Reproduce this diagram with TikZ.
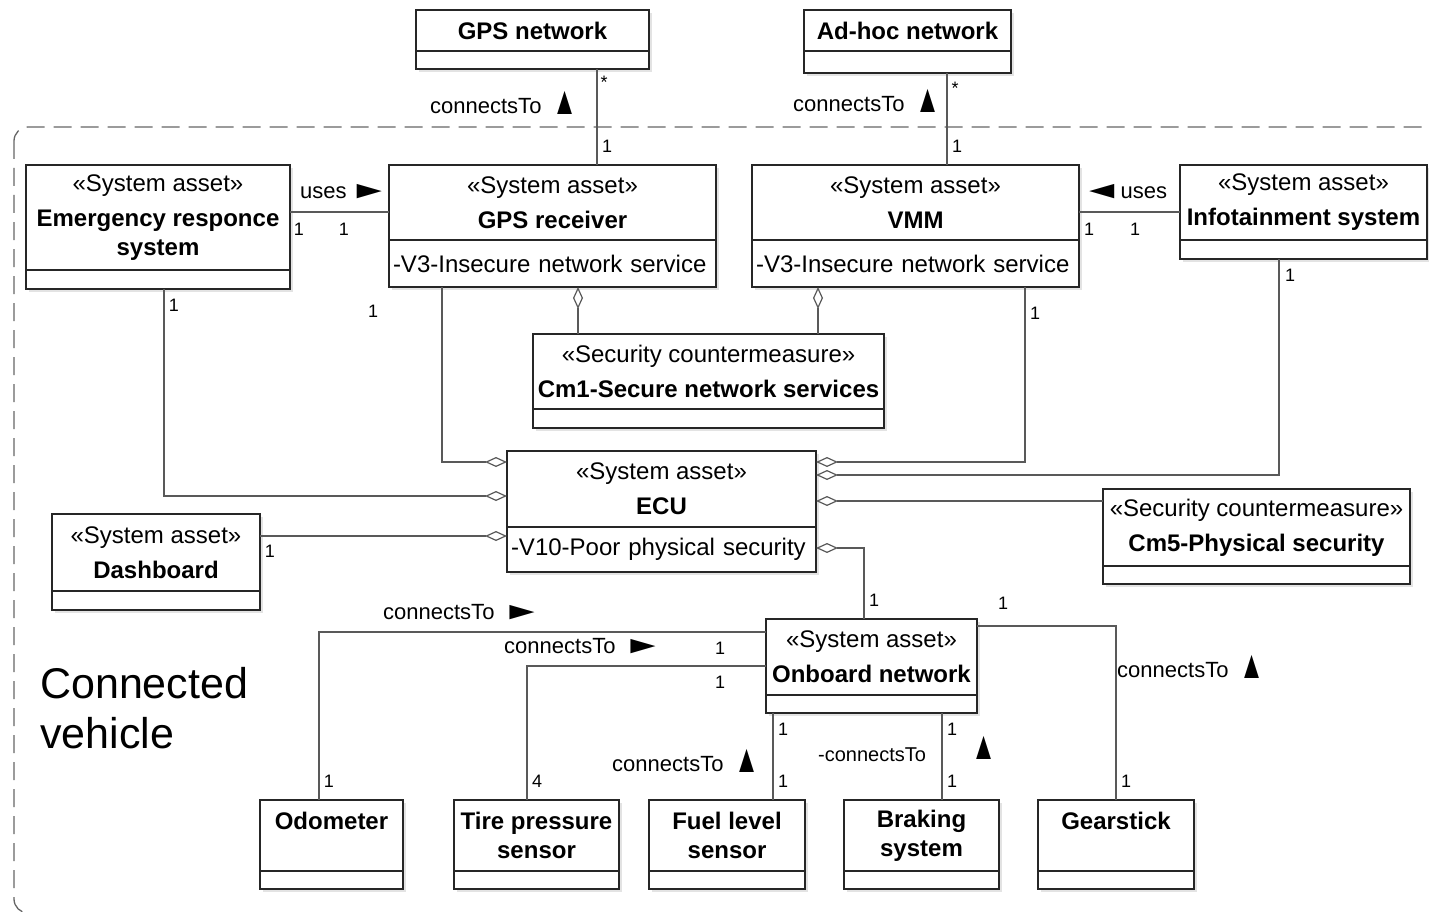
\documentclass[tikz,border=0pt]{standalone}
\usepackage{fontspec}
\usepackage{graphicx}
\setmainfont{Liberation Sans}
\usetikzlibrary{arrows.meta, positioning, calc, shadows}
\newcommand{\dirup}{\raisebox{-1pt}{\scalebox{1.15}[1.8]{▲}}}
\newcommand{\dirright}{\scalebox{1.9}[1.1]{►}}
\newcommand{\dirleft}{\scalebox{1.9}[1.1]{◄}}

\begin{document}
\begin{tikzpicture}[
    x=1pt, y=-1pt,
    cls/.style={draw=black!85, line width=1.6pt, fill=white, inner sep=0pt, outer sep=0pt, anchor=north west, align=center, font=\fontsize{24}{29}\selectfont, drop shadow={shadow xshift=3pt, shadow yshift=-3pt, fill=black!22}},
    cmp/.style={cls, below=0pt of #1},
    att/.style={cls, below=0pt of #1, align=left, inner xsep=4pt},
    assoc/.style={draw=black!65, line width=1.2pt},
    agg/.style={assoc, -{Diamond[open, length=22pt, width=10pt, line width=1.2pt]}},
    lbl/.style={font=\fontsize{22}{24}\selectfont, inner sep=0pt, anchor=west},
    mult/.style={font=\fontsize{18}{20}\selectfont, inner sep=0pt}
]
\useasboundingbox (0,0) rectangle (1429,912);
\clip (0,0) rectangle (1429,912);

\draw[black!60, line width=1.3pt, dash pattern=on 18pt off 9pt, rounded corners=14pt] (14,127) rectangle (1460,913);
\node[font=\fontsize{43}{50}\selectfont, align=left, anchor=west, inner sep=0pt] (pkg) at (40,708) {Connected\\vehicle};

\node[cls, minimum width=233pt, minimum height=41pt] (gpsn) at (416,10) {\textbf{GPS network}};
\node[cmp=gpsn, minimum width=233pt, minimum height=18pt] (gpsn-att) {};
\node[cls, minimum width=207pt, minimum height=41pt] (adhoc) at (804,10) {\textbf{Ad-hoc network}};
\node[cmp=adhoc, minimum width=207pt, minimum height=22pt] (adhoc-att) {};

\node[cls, minimum width=264pt, minimum height=105pt] (ers) at (26,165) {«System asset»\\[6pt]\textbf{Emergency responce}\\\textbf{system}};
\node[cmp=ers, minimum width=264pt, minimum height=19pt] (ers-att) {};
\node[cls, minimum width=327pt, minimum height=75pt] (gpsr) at (389,165) {«System asset»\\[6pt]\textbf{GPS receiver}};
\node[att=gpsr, text width=319pt, minimum height=47pt] (gpsr-att) {-V3-Insecure network service};
\node[cls, minimum width=327pt, minimum height=75pt] (vmm) at (752,165) {«System asset»\\[6pt]\textbf{VMM}};
\node[att=vmm, text width=319pt, minimum height=47pt] (vmm-att) {-V3-Insecure network service};
\node[cls, minimum width=247pt, minimum height=75pt] (info) at (1180,165) {«System asset»\\[6pt]\textbf{Infotainment system}};
\node[cmp=info, minimum width=247pt, minimum height=19pt] (info-att) {};

\node[cls, minimum width=351pt, minimum height=75pt] (cm1) at (533,334) {«Security countermeasure»\\[6pt]\textbf{Cm1-Secure network services}};
\node[cmp=cm1, minimum width=351pt, minimum height=19pt] (cm1-att) {};
\node[cls, minimum width=309pt, minimum height=76pt] (ecu) at (507,451) {«System asset»\\[6pt]\textbf{ECU}};
\node[att=ecu, text width=301pt, minimum height=45pt] (ecu-att) {-V10-Poor physical security};
\node[cls, minimum width=307pt, minimum height=77pt] (cm5) at (1103,489) {«Security countermeasure»\\[6pt]\textbf{Cm5-Physical security}};
\node[cmp=cm5, minimum width=307pt, minimum height=18pt] (cm5-att) {};
\node[cls, minimum width=208pt, minimum height=77pt] (dash) at (52,514) {«System asset»\\[6pt]\textbf{Dashboard}};
\node[cmp=dash, minimum width=208pt, minimum height=19pt] (dash-att) {};
\node[cls, minimum width=211pt, minimum height=76pt] (onb) at (766,619) {«System asset»\\[6pt]\textbf{Onboard network}};
\node[cmp=onb, minimum width=211pt, minimum height=18pt] (onb-att) {};

\node[cls, minimum width=143pt, minimum height=71pt] (odo) at (260,800) {\textbf{Odometer}\\\mbox{}};
\node[cmp=odo, minimum width=143pt, minimum height=18pt] (odo-att) {};
\node[cls, minimum width=165pt, minimum height=71pt] (tire) at (454,800) {\textbf{Tire pressure}\\\textbf{sensor}};
\node[cmp=tire, minimum width=165pt, minimum height=18pt] (tire-att) {};
\node[cls, minimum width=156pt, minimum height=71pt] (fuel) at (649,800) {\textbf{Fuel level}\\\textbf{sensor}};
\node[cmp=fuel, minimum width=156pt, minimum height=18pt] (fuel-att) {};
\node[cls, minimum width=155pt, minimum height=71pt] (brake) at (844,800) {\textbf{Braking}\\\textbf{system}};
\node[cmp=brake, minimum width=155pt, minimum height=18pt] (brake-att) {};
\node[cls, minimum width=156pt, minimum height=71pt] (gear) at (1038,800) {\textbf{Gearstick}\\\mbox{}};
\node[cmp=gear, minimum width=156pt, minimum height=18pt] (gear-att) {};

\draw[assoc] ($(gpsn-att.south west)+(181,0)$) -- ($(gpsr.north west)+(208,0)$);
\draw[assoc] ($(adhoc-att.south west)+(143,0)$) -- ($(vmm.north west)+(195,0)$);
\draw[assoc] ($(ers.north east)+(0,47)$) -- ($(gpsr.north west)+(0,47)$);
\draw[assoc] ($(vmm.north east)+(0,47)$) -- ($(info.north west)+(0,47)$);
\draw[agg] ($(cm1.north west)+(45,0)$) -- ($(gpsr-att.south west)+(189,0)$);
\draw[agg] ($(cm1.north west)+(285,0)$) -- ($(vmm-att.south west)+(66,0)$);
\draw[agg] ($(gpsr-att.south west)+(53,0)$) |- ($(ecu.north west)+(0,11)$);
\draw[agg] ($(ers-att.south west)+(138,0)$) |- ($(ecu.north west)+(0,45)$);
\draw[agg] ($(dash.north east)+(0,22)$) -- ($(ecu-att.north west)+(0,9)$);
\draw[agg] ($(vmm-att.south west)+(273,0)$) |- ($(ecu.north east)+(0,11)$);
\draw[agg] ($(info-att.south west)+(99,0)$) |- ($(ecu.north east)+(0,24)$);
\draw[agg] ($(cm5.north west)+(0,12)$) -- ($(ecu.north east)+(0,50)$);
\draw[agg] ($(onb.north west)+(98,0)$) |- ($(ecu-att.north east)+(0,21)$);
\draw[assoc] ($(onb.north west)+(0,13)$) -| ($(odo.north west)+(59,0)$);
\draw[assoc] ($(onb.north west)+(0,47)$) -| ($(tire.north west)+(73,0)$);
\draw[assoc] ($(onb-att.south west)+(7,0)$) -- ($(fuel.north west)+(124,0)$);
\draw[assoc] ($(onb-att.south west)+(176,0)$) -- ($(brake.north west)+(98,0)$);
\draw[assoc] ($(onb.north east)+(0,7)$) -| ($(gear.north west)+(78,0)$);

\node[lbl] (l-gps) at (430,103) {connectsTo\hspace{11pt}\dirup};
\node[lbl] (l-adhoc) at (793,101) {connectsTo\hspace{11pt}\dirup};
\node[lbl] (l-ers) at (300,192) {uses\hspace{2pt}\dirright};
\node[lbl] (l-info) at (1081,192) {\dirleft\hspace{-2pt}uses};
\node[lbl] (l-odo) at (383,612) {connectsTo\hspace{7pt}\dirright};
\node[lbl] (l-tire) at (504,646) {connectsTo\hspace{7pt}\dirright};
\node[lbl] (l-fuel) at (612,761) {connectsTo\hspace{11pt}\dirup};
\node[lbl, font=\fontsize{20}{22}\selectfont] (l-brake) at (818,755) {-connectsTo};
\node[lbl] (l-brake2) at (971,748) {\dirup};
\node[lbl] (l-gear) at (1117,667) {connectsTo\hspace{11pt}\dirup};

\node[mult] (m-gpsn) at (604,82) {*};
\node[mult] (m-gpsr) at (607,146) {1};
\node[mult] (m-adhoc) at (955,88) {*};
\node[mult] (m-vmm) at (957,146) {1};
\node[mult] (m-ers1) at (299,229) {1};
\node[mult] (m-ers2) at (344,229) {1};
\node[mult] (m-info1) at (1089,229) {1};
\node[mult] (m-info2) at (1135,229) {1};
\node[mult] (m-ers3) at (174,305) {1};
\node[mult] (m-gpsr2) at (373,311) {1};
\node[mult] (m-vmm2) at (1035,313) {1};
\node[mult] (m-info3) at (1290,275) {1};
\node[mult] (m-dash) at (270,551) {1};
\node[mult] (m-onb1) at (874,600) {1};
\node[mult] (m-onb2) at (1003,603) {1};
\node[mult] (m-onb3) at (720,648) {1};
\node[mult] (m-onb4) at (720,682) {1};
\node[mult] (m-odo) at (329,781) {1};
\node[mult] (m-tire) at (537,781) {4};
\node[mult] (m-onb5) at (783,729) {1};
\node[mult] (m-fuel) at (783,781) {1};
\node[mult] (m-onb6) at (952,729) {1};
\node[mult] (m-brake) at (952,781) {1};
\node[mult] (m-gear) at (1126,781) {1};

\end{tikzpicture}
\end{document}
